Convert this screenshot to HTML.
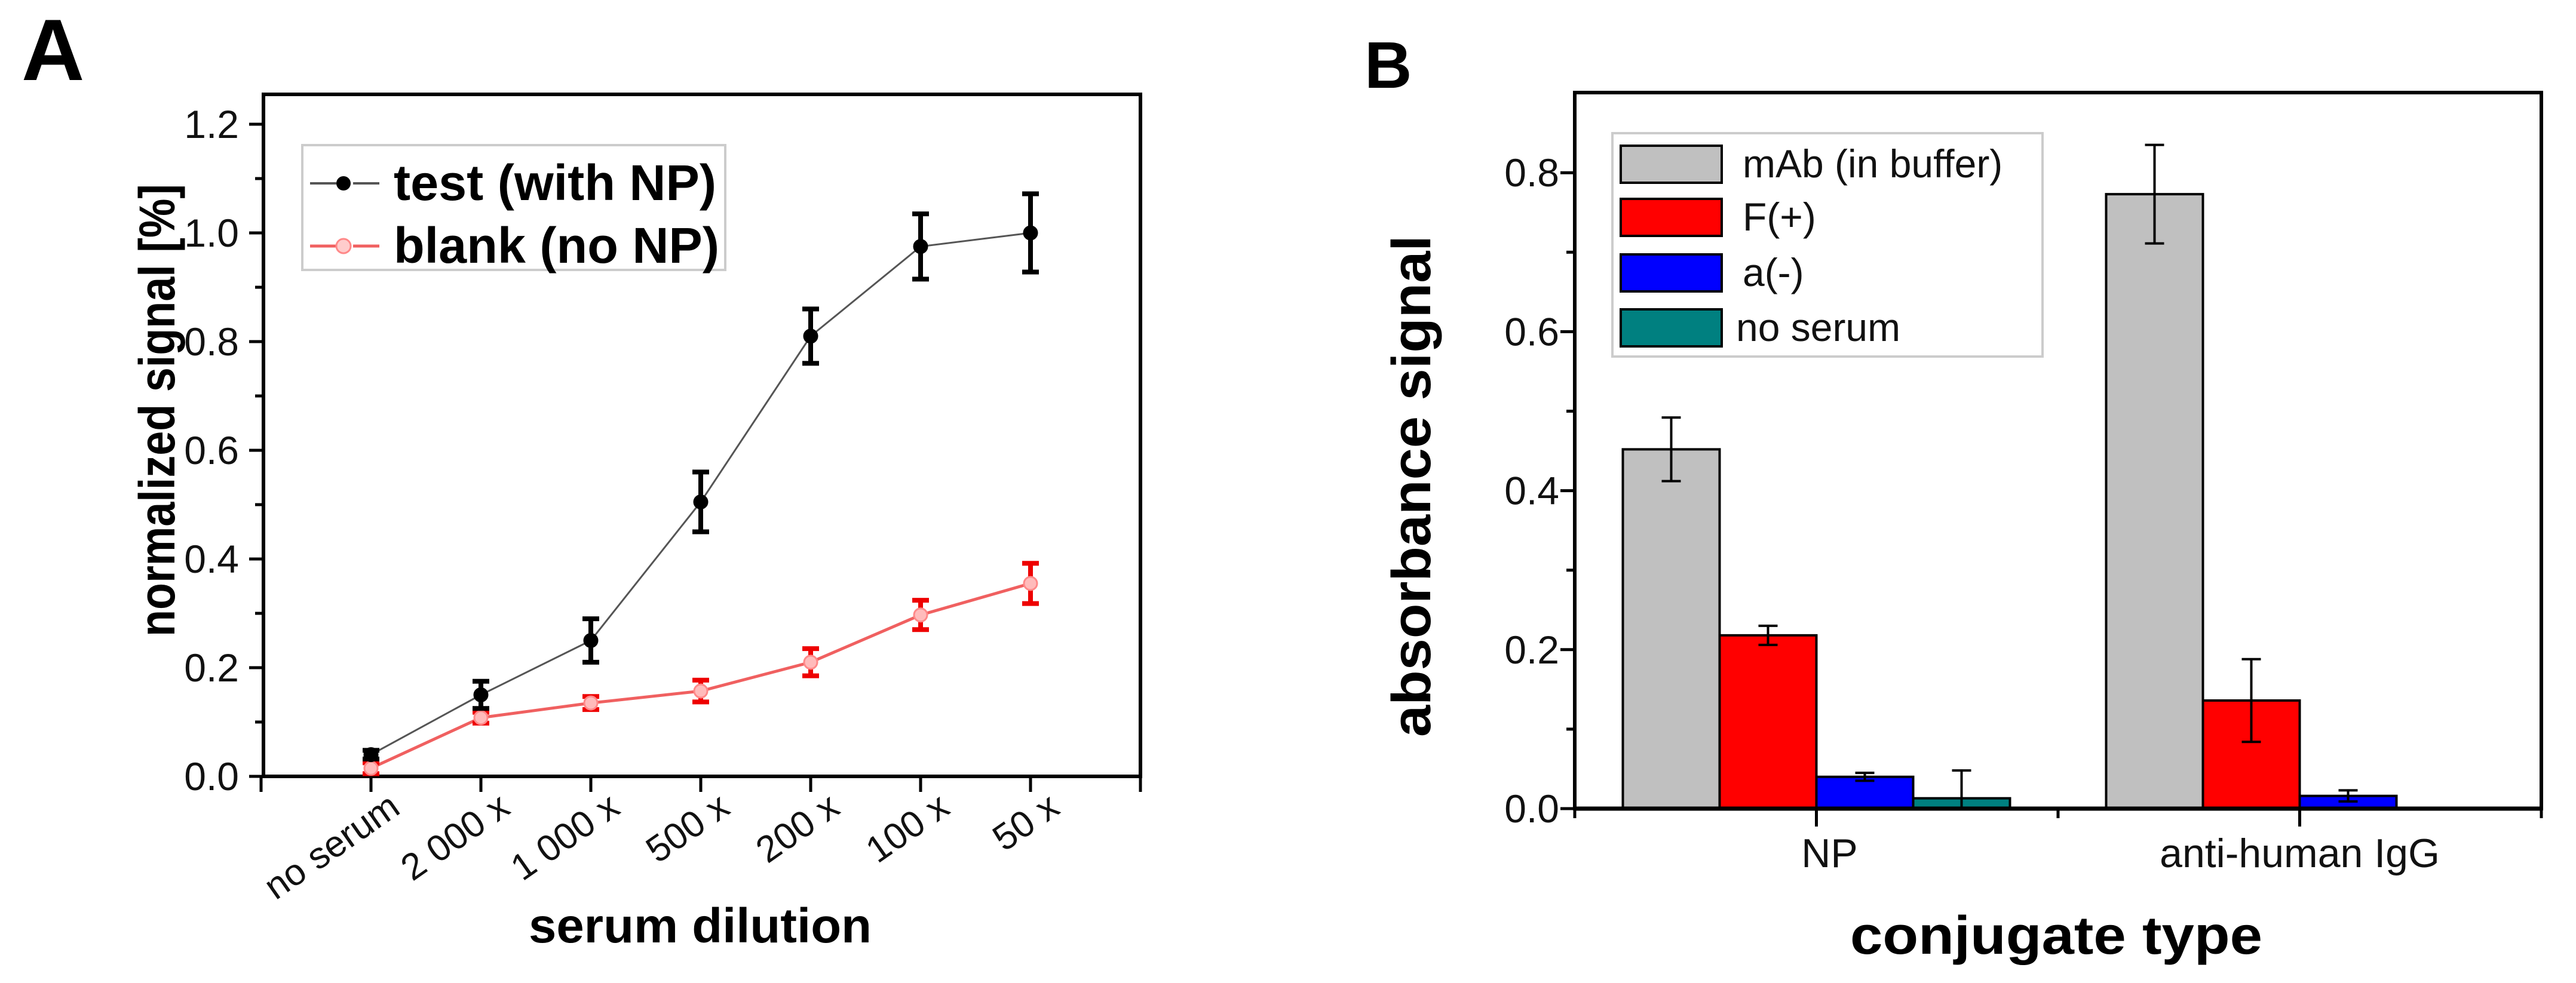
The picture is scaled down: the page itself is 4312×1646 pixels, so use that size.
<!DOCTYPE html>
<html><head><meta charset="utf-8"><style>
html,body{margin:0;padding:0;background:#fff;}
svg{display:block;}
text{font-family:"Liberation Sans Narrow","Liberation Sans",sans-serif;}
.b{font-family:"Liberation Sans",sans-serif;font-weight:bold;}
</style></head><body>
<svg id="fig" width="4312" height="1646" viewBox="0 0 4312 1646" xmlns="http://www.w3.org/2000/svg">
<text class="b" x="36" y="134" font-size="146">A</text>
<text class="b" x="2284" y="147" font-size="110">B</text>
<g id="pa"></g>
<g id="pb"></g>
</svg>
<script>
// ---------- Panel A data ----------
const catsA = ["no serum","2 000 x","1 000 x","500 x","200 x","100 x","50 x"];
const testVals = [0.04,0.15,0.25,0.505,0.81,0.975,1.0];
const testErr = [0.008,0.025,0.04,0.055,0.05,0.06,0.072];
const blankVals = [0.015,0.108,0.135,0.157,0.21,0.297,0.355];
const blankErr = [0.01,0.01,0.012,0.02,0.025,0.027,0.037];
const ticksA = ["0.0","0.2","0.4","0.6","0.8","1.0","1.2"];
// ---------- Panel B data ----------
const catsB = ["NP","anti-human IgG"];
const seriesB = ["mAb (in buffer)","F(+)","a(-)","no serum"];
const valsMab = [0.452,0.773];
const errMab = [0.04,0.062];
const valsF = [0.218,0.136];
const errF = [0.012,0.052];
const valsA = [0.04,0.016];
const errA = [0.005,0.007];
const valsNo = [0.013,0];
const errNo = [0.035,0];
const ticksB = ["0.0","0.2","0.4","0.6","0.8"];

const NS="http://www.w3.org/2000/svg";
function mk(parent,tag,attrs,txt){const e=document.createElementNS(NS,tag);for(const k in attrs)e.setAttribute(k,attrs[k]);if(txt!==undefined)e.textContent=txt;parent.appendChild(e);return e;}

// ===== Panel A =====
(function(){
const g=document.getElementById('pa');
const L=441,R=1909,T=158,B=1300;
const xA=i=>621+184*i;
const yA=v=>B-v*910;
// frame
let e=mk(g,'rect',{x:L,y:T,width:R-L,height:B-T,fill:'none',stroke:'#000','stroke-width':6});

// y ticks
for(let k=0;k<=12;k++){const v=k*0.1,y=yA(v),major=k%2===0;
 mk(g,'line',{x1:L-(major?24:14),x2:L,y1:y,y2:y,stroke:'#000','stroke-width':5});}
ticksA.forEach(t=>{const v=parseFloat(t);
 e=mk(g,'text',{x:400,y:yA(v)+23,'font-size':66,'text-anchor':'end',fill:'#111'},t);
 });
// x ticks
for(let i=-1;i<=7;i++){mk(g,'line',{x1:xA(i),x2:xA(i),y1:B,y2:B+26,stroke:'#000','stroke-width':5});}
catsA.forEach((c,i)=>{
 e=mk(g,'text',{x:0,y:0,'font-size':62,'text-anchor':'end',fill:'#111',transform:`translate(${xA(i)+52},${B+60}) rotate(-35)`},c);
 });
// axis titles
e=mk(g,'text',{class:'b',x:0,y:0,'font-size':84,'text-anchor':'middle',textLength:758,lengthAdjust:'spacingAndGlyphs',transform:'translate(292,687) rotate(-90)'},'normalized signal [%]');

e=mk(g,'text',{class:'b',x:1172,y:1578,'font-size':82,'text-anchor':'middle',textLength:574,lengthAdjust:'spacingAndGlyphs'},'serum dilution');

// series
function series(vals,errs,col,lineCol,name,open){
 const pts=vals.map((v,i)=>xA(i)+','+yA(v)).join(' ');
 e=mk(g,'polyline',{points:pts,fill:'none',stroke:lineCol,'stroke-width':open?5:3});
 
 vals.forEach((v,i)=>{const x=xA(i),y1=yA(v+errs[i]),y2=yA(v-errs[i]);
  e=mk(g,'path',{d:`M${x},${y1}V${y2}M${x-14},${y1}H${x+14}M${x-14},${y2}H${x+14}`,stroke:col,'stroke-width':8,fill:'none'});
  
  e=mk(g,'circle',{cx:x,cy:yA(v),r:11,fill:open?'#fbb':'#000',stroke:open?'#f88':'#000','stroke-width':3});
  });
}
series(blankVals,blankErr,'#e00','#f06060','blank',true);
series(testVals,testErr,'#000','#555','test',false);
// legend
const lg=mk(g,'g',{});

mk(lg,'rect',{x:506,y:243,width:708,height:209,fill:'#fff',stroke:'#ccc','stroke-width':4});
mk(lg,'line',{x1:519,x2:635,y1:307,y2:307,stroke:'#555','stroke-width':4,'stroke-dasharray':'44 28'});
mk(lg,'circle',{cx:575,cy:307,r:12,fill:'#000'});
e=mk(lg,'text',{class:'b',x:659,y:335,'font-size':84,textLength:540,lengthAdjust:'spacingAndGlyphs'},'test (with NP)');

mk(lg,'line',{x1:519,x2:635,y1:412,y2:412,stroke:'#f06060','stroke-width':5,'stroke-dasharray':'44 28'});
mk(lg,'circle',{cx:575,cy:412,r:12,fill:'#fcc',stroke:'#f88','stroke-width':3});
e=mk(lg,'text',{class:'b',x:659,y:440,'font-size':84,textLength:545,lengthAdjust:'spacingAndGlyphs'},'blank (no NP)');

})();

// ===== Panel B =====
(function(){
const g=document.getElementById('pb');
const L=2636,R=4254,T=155,B=1354;
const yB=v=>B-v*1331;
const groupW=809,barW=162;
const xC=i=>L+groupW*(i+0.5);
let e=mk(g,'rect',{x:L,y:T,width:R-L,height:B-T,fill:'none',stroke:'#000','stroke-width':6});

for(let k=0;k<=8;k++){const y=yB(k*0.1),major=k%2===0;
 mk(g,'line',{x1:L-(major?24:14),x2:L,y1:y,y2:y,stroke:'#000','stroke-width':5});}
ticksB.forEach(t=>{const v=parseFloat(t);
 e=mk(g,'text',{x:2610,y:yB(v)+23,'font-size':66,'text-anchor':'end',fill:'#111'},t);
 });
[L,xC(0),L+groupW,xC(1),R].forEach((x,j)=>{mk(g,'line',{x1:x,x2:x,y1:B,y2:B+(j%2?30:16),stroke:'#000','stroke-width':5});});
catsB.forEach((c,i)=>{
 e=mk(g,'text',{x:xC(i)+(i===0?22:0),y:1452,'font-size':68,'text-anchor':'middle',fill:'#111'},c);
 });
e=mk(g,'text',{class:'b',x:0,y:0,'font-size':92,'text-anchor':'middle',textLength:840,lengthAdjust:'spacingAndGlyphs',transform:'translate(2394,814) rotate(-90)'},'absorbance signal');

e=mk(g,'text',{class:'b',x:3442,y:1597,'font-size':90,'text-anchor':'middle',textLength:690,lengthAdjust:'spacingAndGlyphs'},'conjugate type');

const cols=['#c0c0c0','#ff0000','#0000ff','#008080'];
const allV=[valsMab,valsF,valsA,valsNo],allE=[errMab,errF,errA,errNo];
const names=['bar-mab','bar-fplus','bar-aminus','bar-noserum'];
catsB.forEach((c,i)=>{
 allV.forEach((vals,s)=>{
  const v=vals[i];const x=xC(i)-2*barW+s*barW;
  if(v>0){
   e=mk(g,'rect',{x:x,y:yB(v),width:barW,height:B-yB(v),fill:cols[s],stroke:'#000','stroke-width':4});
   
   const er=allE[s][i];const cx=x+barW/2;
   const y1=yB(v+er),y2=Math.min(yB(v-er),B);
   e=mk(g,'path',{d:`M${cx},${y1}V${y2}M${cx-16},${y1}H${cx+16}`+(yB(v-er)<B?`M${cx-16},${y2}H${cx+16}`:''),stroke:'#000','stroke-width':4,fill:'none'});
   
  }
 });
});
// axis line on top
mk(g,'line',{x1:L,x2:R,y1:B,y2:B,stroke:'#000','stroke-width':7});
const lg=mk(g,'g',{});

mk(lg,'rect',{x:2699,y:223,width:720,height:374,fill:'#fff',stroke:'#ccc','stroke-width':4});
const rowsY=[275,364,457,549];
seriesB.forEach((s,k)=>{
 mk(lg,'rect',{x:2713,y:rowsY[k]-31,width:169,height:62,fill:cols[k],stroke:'#000','stroke-width':4});
 e=mk(lg,'text',{x:k===3?2906:2917,y:rowsY[k]+22,'font-size':66,fill:'#111'},s);
 
});
})();
</script>
</body></html>
